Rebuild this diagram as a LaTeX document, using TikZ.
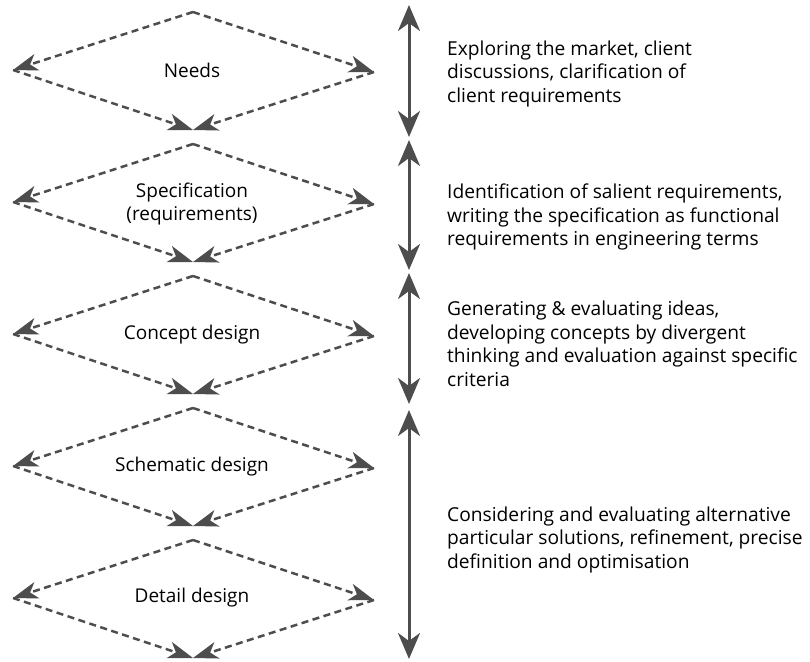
\documentclass[tikz,border=0pt]{standalone}
\usepackage{fontspec}
\setmainfont{Open Sans}
\usepackage{xcolor}
\usetikzlibrary{arrows.meta,positioning,calc}
\definecolor{linegray}{HTML}{4D4D4D}

\begin{document}
\begin{tikzpicture}[
  x=1pt,y=-1pt,
  stagetext/.style={font=\fontsize{19}{23}\selectfont,align=center,inner sep=0pt},
  notetext/.style={font=\fontsize{19.2}{23.5}\selectfont,align=left,anchor=west,inner sep=0pt},
  flowarr/.style={-{Stealth[length=25pt,width=17pt,inset=7pt]},linegray,
                  line width=2.5pt,dash pattern=on 7pt off 4.5pt},
  phasearr/.style={{Stealth[length=26pt,width=22pt,inset=8pt]}-{Stealth[length=26pt,width=22pt,inset=8pt]},
                   linegray,line width=3pt}
]
  \useasboundingbox (0,0) rectangle (810,661);

  % stage labels
  \node[stagetext](needs) at (192,70){Needs};
  \node[stagetext](spec) at (192,204){Specification\\(requirements)};
  \node[stagetext](concept) at (192,335){Concept design};
  \node[stagetext](schem) at (192,467){Schematic design};
  \node[stagetext](detail) at (192,598){Detail design};

  % diamond corners
  \coordinate(needsT) at (193,12);  \coordinate(needsL) at (13,70);
  \coordinate(needsR) at (374,72);  \coordinate(needsB) at (193,130);
  \coordinate(specT) at (193,144);  \coordinate(specL) at (13,202);
  \coordinate(specR) at (374,204);  \coordinate(specB) at (193,262);
  \coordinate(conceptT) at (193,276); \coordinate(conceptL) at (13,334);
  \coordinate(conceptR) at (374,336); \coordinate(conceptB) at (193,394);
  \coordinate(schemT) at (193,408); \coordinate(schemL) at (13,466);
  \coordinate(schemR) at (374,468); \coordinate(schemB) at (193,526);
  \coordinate(detailT) at (193,540); \coordinate(detailL) at (13,598);
  \coordinate(detailR) at (374,600); \coordinate(detailB) at (193,658);

  \draw[flowarr](needsT)--(needsL);
  \draw[flowarr](needsT)--(needsR);
  \draw[flowarr](needsL)--(needsB);
  \draw[flowarr](needsR)--(needsB);

  \draw[flowarr](specT)--(specL);
  \draw[flowarr](specT)--(specR);
  \draw[flowarr](specL)--(specB);
  \draw[flowarr](specR)--(specB);

  \draw[flowarr](conceptT)--(conceptL);
  \draw[flowarr](conceptT)--(conceptR);
  \draw[flowarr](conceptL)--(conceptB);
  \draw[flowarr](conceptR)--(conceptB);

  \draw[flowarr](schemT)--(schemL);
  \draw[flowarr](schemT)--(schemR);
  \draw[flowarr](schemL)--(schemB);
  \draw[flowarr](schemR)--(schemB);

  \draw[flowarr](detailT)--(detailL);
  \draw[flowarr](detailT)--(detailR);
  \draw[flowarr](detailL)--(detailB);
  \draw[flowarr](detailR)--(detailB);

  % phase spans on the right
  \coordinate(ph1a) at (409,5);   \coordinate(ph1b) at (409,137);
  \coordinate(ph2a) at (409,140); \coordinate(ph2b) at (409,270);
  \coordinate(ph3a) at (409,273); \coordinate(ph3b) at (409,404);
  \coordinate(ph4a) at (409,410); \coordinate(ph4b) at (409,659);

  \draw[phasearr](ph1a)--(ph1b);
  \draw[phasearr](ph2a)--(ph2b);
  \draw[phasearr](ph3a)--(ph3b);
  \draw[phasearr](ph4a)--(ph4b);

  % activity notes
  \node[notetext](note1) at (447,74){Exploring the market, client\\discussions, clarification of\\client requirements};
  \node[notetext](note2) at (447,217){Identification of salient requirements,\\writing the specification as functional\\requirements in engineering terms};
  \node[notetext](note3) at (447,344){Generating \& evaluating ideas,\\developing concepts by divergent\\thinking and evaluation against specific\\criteria};
  \node[notetext](note4) at (447,540){Considering and evaluating alternative\\particular solutions, refinement, precise\\definition and optimisation};
\end{tikzpicture}
\end{document}
